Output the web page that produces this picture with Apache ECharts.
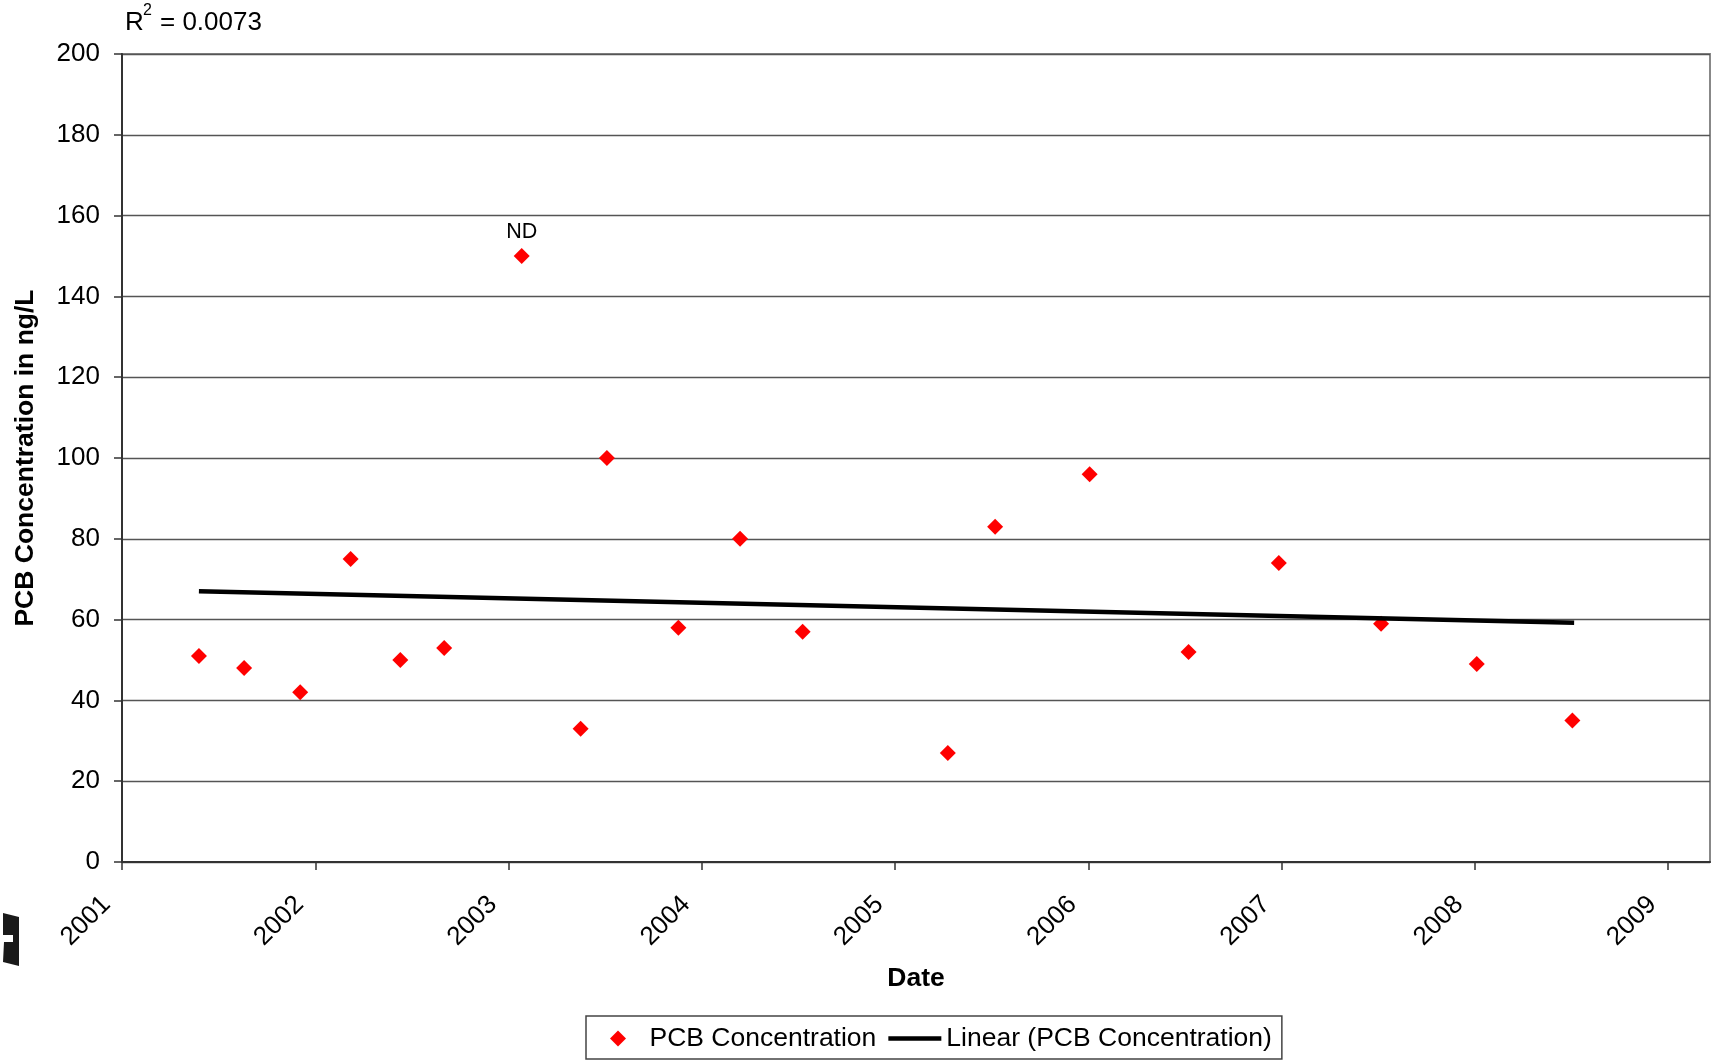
<!DOCTYPE html>
<html>
<head>
<meta charset="utf-8">
<script src="https://cdn.jsdelivr.net/npm/echarts@6/dist/echarts.min.js"></script>
<style>
html,body{margin:0;padding:0;background:#fff;}
#chart{width:1724px;height:1061px;}
</style>
</head>
<body>
<div id="chart"></div>
<script>
// Sample dates as decimal years
const sampleDates = [2001.398, 2001.632, 2001.922, 2002.183, 2002.44, 2002.667, 2003.068, 2003.373, 2003.509, 2003.879,
                     2004.198, 2004.522, 2005.273, 2005.518, 2006.007, 2006.519, 2006.986, 2007.515, 2008.01, 2008.505];
// PCB concentration (ng/L)
const pcbValues = [51, 48, 42, 75, 50, 53, 150, 33, 100, 58, 80, 57, 27, 83, 96, 52, 74, 59, 49, 35];
// point annotations
const pointNotes = ['', '', '', '', '', '', 'ND', '', '', '', '', '', '', '', '', '', '', '', '', ''];
// Linear trend endpoints
const trendDates = [2001.398, 2008.514];
const trendValues = [67.0, 59.2];
// axis ticks
const xTickYears = [2001, 2002, 2003, 2004, 2005, 2006, 2007, 2008, 2009];
const xMin = 2001, xMax = 2009.217;
const yMin = 0, yMax = 200, yStep = 20;
const r2Text = '0.0073';

const FONT = 'Liberation Sans, Arial, sans-serif';
const chart = echarts.init(document.getElementById('chart'));

const scatterData = sampleDates.map((d, i) => ({
  value: [d, pcbValues[i]],
  label: pointNotes[i] ? {show: true, formatter: pointNotes[i]} : {show: false}
}));
const trendData = trendDates.map((d, i) => [d, trendValues[i]]);

chart.setOption({
  animation: false,
  backgroundColor: '#fff',
  grid: {left: 122, top: 54, right: 14, bottom: 199, show: true, borderColor: '#888', borderWidth: 2, backgroundColor: 'transparent'},
  legend: {
    left: 586, top: 1016,
    padding: [9, 10, 7, 24],
    itemWidth: 53, itemHeight: 16, itemGap: 12,
    symbolKeepAspect: true,
    borderColor: '#444', borderWidth: 1.5, borderRadius: 0,
    textStyle: {fontFamily: FONT, fontSize: 26.5, color: '#000'},
    data: [
      {name: 'PCB Concentration', icon: 'path://M0,-10L10,0L0,10L-10,0Z', itemStyle: {color: '#FF0000', opacity: 1}},
      {name: 'Linear (PCB Concentration)', icon: 'path://M0,0L100,0L100,8.5L0,8.5Z', itemStyle: {color: '#000', borderWidth: 0}}
    ]
  },
  xAxis: {
    type: 'value', min: xMin, max: xMax,
    name: 'Date', nameLocation: 'middle', nameGap: 103,
    nameTextStyle: {fontFamily: FONT, fontSize: 26.5, fontWeight: 'bold', color: '#000'},
    axisLine: {show: true, onZero: false, lineStyle: {color: '#333', width: 2}},
    axisTick: {show: true, length: 8, customValues: xTickYears, lineStyle: {color: '#333', width: 1.5}},
    axisLabel: {show: true, customValues: xTickYears, rotate: 45, margin: 23, padding: [0, 22, 0, 0],
      fontFamily: FONT, fontSize: 26, color: '#000', formatter: v => String(Math.round(v))},
    splitLine: {show: false}
  },
  yAxis: {
    type: 'value', min: yMin, max: yMax, interval: yStep,
    axisLine: {show: true, onZero: false, lineStyle: {color: '#333', width: 2}},
    axisTick: {show: true, length: 8, lineStyle: {color: '#333', width: 1.5}},
    axisLabel: {margin: 22, fontFamily: FONT, fontSize: 26, color: '#000'},
    splitLine: {show: true, lineStyle: {color: '#555', width: 1.3}}
  },
  series: [
    {
      name: 'PCB Concentration', type: 'scatter', symbol: 'diamond', symbolSize: 16,
      itemStyle: {color: '#FF0000', opacity: 1},
      label: {position: 'top', distance: 5, fontFamily: FONT, fontSize: 21.5, color: '#000'},
      data: scatterData, z: 2
    },
    {
      name: 'Linear (PCB Concentration)', type: 'line', symbol: 'none', showSymbol: false,
      lineStyle: {color: '#000', width: 4.5}, itemStyle: {color: '#000'},
      data: trendData, z: 3
    }
  ],
  graphic: [
    {type: 'text', left: 125, top: 10, style: {text: 'R', fontFamily: FONT, fontSize: 26, fill: '#000'}},
    {type: 'text', left: 143, top: 3, style: {text: '2', fontFamily: FONT, fontSize: 16, fill: '#000'}},
    {type: 'text', left: 160, top: 10, style: {text: '= ' + r2Text, fontFamily: FONT, fontSize: 26, fill: '#000'}},
    {type: 'text', x: 26, y: 458, rotation: Math.PI / 2,
      style: {text: 'PCB Concentration in ng/L', fontFamily: FONT, fontSize: 26.5, fontWeight: 'bold', fill: '#000', align: 'center', verticalAlign: 'middle'}},
    {type: 'polygon', shape: {points: [[3,913],[19,917],[19,966],[3,962],[4,942],[13,942],[13,935],[3,935]]}, style: {fill: '#1a1a1a'}}
  ]
});
</script>
</body>
</html>
